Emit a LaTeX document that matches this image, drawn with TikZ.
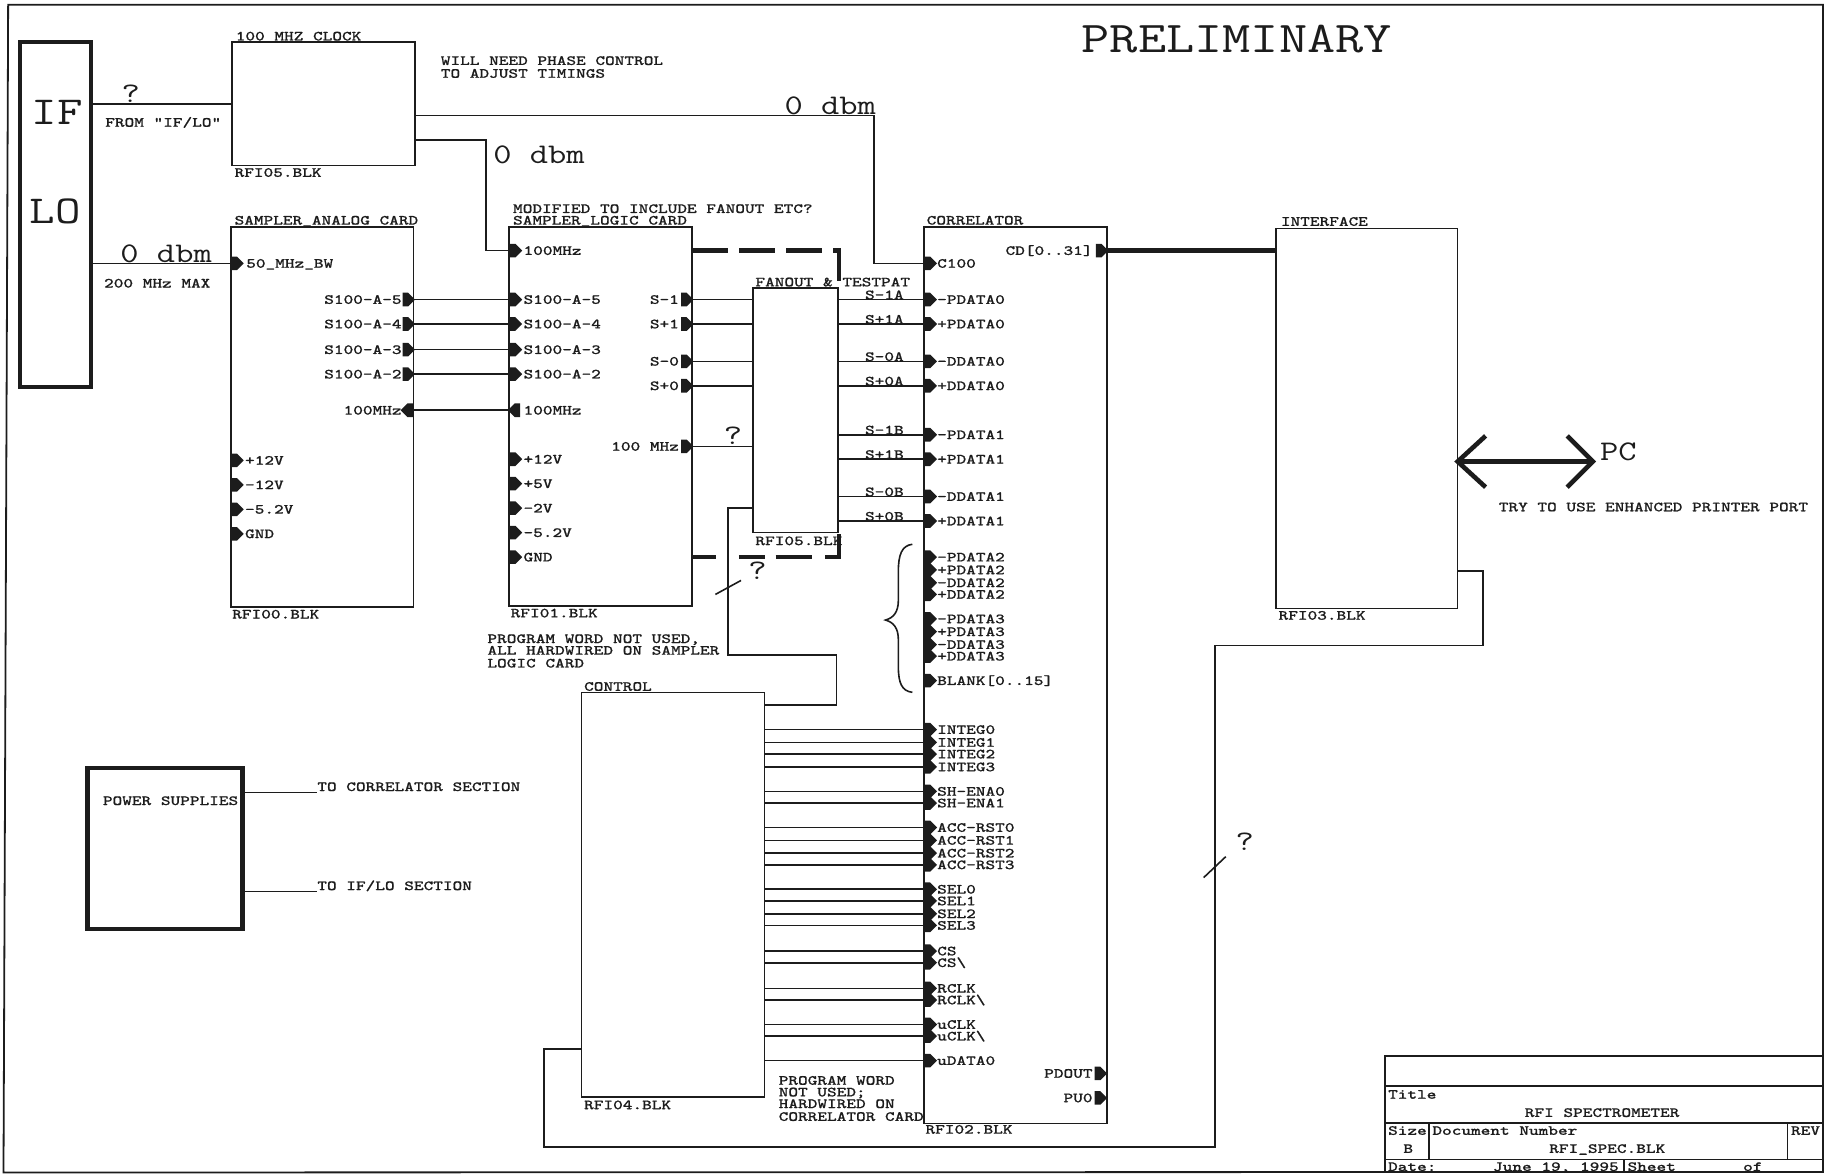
\documentclass[tikz,border=0pt]{standalone}
\usepackage{fontspec}
\usetikzlibrary{fit,shapes.symbols}
\newfontfamily\lblfont[FakeStretch=1.3,FakeBold=0.9]{Latin Modern Mono}
\newfontfamily\bigfont[FakeStretch=1.25]{Latin Modern Mono}
\definecolor{ink}{HTML}{1C1C1C}
\newcounter{tcnt}
\tikzset{
  blk/.style={draw=ink,line width=.8pt,inner sep=0pt,outer sep=0pt},
  thickblk/.style={draw=ink,line width=2.3pt,inner sep=0pt,outer sep=0pt},
  wire/.style={draw=ink,line width=.8pt},
  busw/.style={draw=ink,line width=2.2pt},
  dashedbus/.style={draw=ink,line width=2.2pt,dash pattern=on 18pt off 5.5pt},
  dashedbustwo/.style={draw=ink,line width=2.2pt,dash pattern=on 11.7pt off 11.7pt on 12.8pt off 5.5pt on 18.4pt off 6.4pt on 30pt off 1pt},
  lbl/.style={inner sep=0pt,text=ink,font=\lblfont\fontsize{7pt}{8pt}\selectfont},
  portr/.style={signal,signal to=east,fill=ink,inner sep=0pt,minimum width=6.2pt,minimum height=6.8pt,xshift=-1.2pt},
  portl/.style={signal,signal to=west,fill=ink,inner sep=0pt,minimum width=6.2pt,minimum height=6.8pt,xshift=1.2pt},
  bigtxt/.style={inner sep=0pt,text=ink},
}
\newcommand\blkbox[6][blk]{%
  \coordinate (#2a) at (#3,#4);\coordinate (#2b) at (#5,#6);
  \node[#1,fit=(#2a)(#2b)] (#2) {};}
\newcommand\txl[3]{\stepcounter{tcnt}\node[lbl,anchor=base west] (t\arabic{tcnt}) at (#1,#2+3.7) {#3};}
\newcommand\txr[3]{\stepcounter{tcnt}\node[lbl,anchor=base east] (t\arabic{tcnt}) at (#1,#2+3.7) {#3};}
\newcommand\txc[3]{\stepcounter{tcnt}\node[lbl,anchor=base] (t\arabic{tcnt}) at (#1,#2+3.7) {#3};}
\newcommand\bigtx[4]{\stepcounter{tcnt}\node[bigtxt,anchor=base west,font=\bigfont\fontsize{#4}{#4}\selectfont] (t\arabic{tcnt}) at (#1,#2) {#3};}
\begin{document}
\begin{tikzpicture}[x=.58259pt,y=-.58275pt]
\useasboundingbox (0,0) rectangle (1568,1009);
% sheet frame
\draw[ink,line width=.9pt] (7,4) -- (1564.5,4) -- (1564.5,1005.5) -- (3,1006) -- cycle;
% title block
\draw[ink,line width=.8pt] (1188.6,1005.5) -- (1188.6,906) -- (1564.5,906);
\draw[ink,line width=.8pt] (1188.6,932) -- (1564.5,932);
\draw[ink,line width=.8pt] (1188.6,963.5) -- (1564.5,963.5);
\draw[ink,line width=.8pt] (1188.6,994.7) -- (1564.5,994.7);
\draw[ink,line width=.8pt] (1226.5,963.5) -- (1226.5,994.7);
\draw[ink,line width=.8pt] (1534,963.5) -- (1534,994.7);
\draw[ink,line width=.8pt] (1393.8,994.7) -- (1393.8,1005.5);
\txl{1191}{939}{Title}
\txc{1375}{954.6}{RFI SPECTROMETER}
\txl{1191}{970}{Size}
\txc{1208.6}{985.5}{B}
\txl{1229}{970}{Document Number}
\txc{1379.4}{985.5}{RFI\_SPEC.BLK}
\txl{1536.8}{970}{REV}
\txl{1191}{1001}{Date:}
\txr{1389.6}{1001}{June 19, 1995}
\txl{1396.5}{1001}{Sheet}
\txl{1495.7}{1001}{of}
% blocks
\blkbox[thickblk]{iflo}{17}{36}{78}{332}
\blkbox{clk}{199}{36}{356}{142}
\blkbox{ana}{198}{195}{355}{521}
\blkbox{logic}{437}{195}{594}{520}
\blkbox{fan}{646}{247}{719}{457}
\blkbox{corr}{793}{195}{950}{964}
\blkbox{iface}{1095}{196}{1251}{522}
\blkbox{ctrl}{499}{594}{656}{941}
\blkbox[thickblk]{psu}{75}{659}{208}{797}
% big texts
\bigtx{928}{45}{PRELIMINARY}{21.9pt}
\bigtx{27}{107}{IF}{19.8pt}
\bigtx{25}{192}{LO}{19.8pt}
\bigtx{104}{88}{?}{14.2pt}
\bigtx{103}{225}{0 dbm}{14.2pt}
\bigtx{423}{140}{0 dbm}{14.2pt}
\bigtx{673}{98}{0 dbm}{14.2pt}
\bigtx{621}{381}{?}{14.2pt}
\bigtx{642}{497}{?}{14.2pt}
\bigtx{1060}{730}{?}{14.2pt}
\bigtx{1373}{395}{PC}{14.2pt}
% small texts
\txl{202}{31}{100 MHZ CLOCK}
\txl{201}{148}{RFI05.BLK}
\txl{378}{52}{WILL NEED PHASE CONTROL}
\txl{378}{63}{TO ADJUST TIMINGS}
\txl{90}{105}{FROM "IF/LO"}
\txl{89}{243}{200 MHz MAX}
\txl{201}{189}{SAMPLER\_ANALOG CARD}
\txl{199}{527}{RFI00.BLK}
\txl{440}{179}{MODIFIED TO INCLUDE FANOUT ETC?}
\txl{440}{189}{SAMPLER\_LOGIC CARD}
\txl{438}{526}{RFI01.BLK}
\txl{648}{242}{FANOUT \& TESTPAT}
\txl{648}{464}{RFI05.BLK}
\txl{795}{189}{CORRELATOR}
\txl{794}{969}{RFI02.BLK}
\txl{1099}{190}{INTERFACE}
\txl{1097}{528}{RFI03.BLK}
\txl{501}{589}{CONTROL}
\txl{501}{948}{RFI04.BLK}
\txl{418}{548}{PROGRAM WORD NOT USED,}
\txl{418}{558}{ALL HARDWIRED ON SAMPLER}
\txl{418}{569}{LOGIC CARD}
\txl{668}{927}{PROGRAM WORD}
\txl{668}{937}{NOT USED;}
\txl{668}{947}{HARDWIRED ON}
\txl{668}{958}{CORRELATOR CARD}
\txl{88}{687}{POWER SUPPLIES}
\txl{272}{675}{TO CORRELATOR SECTION}
\txl{272}{760}{TO IF/LO SECTION}
\txl{1286}{435}{TRY TO USE ENHANCED PRINTER PORT}
% analog card ports
\node[portr] (abw) at (203,226) {};
\txl{211}{226}{50\_MHz\_BW}
\foreach \y/\t in {395/+12V,416/-12V,437/-5.2V,458/GND}{
  \node[portr] (av\y) at (203,\y) {};
  \txl{210}{\y}{\t}
}
\foreach \y/\t in {257/S100-A-5,278/S100-A-4,300/S100-A-3,321/S100-A-2}{
  \node[portr] (ar\y) at (350,\y) {};
  \txr{345}{\y}{\t}
  \node[portr] (ll\y) at (442,\y) {};
  \txl{449}{\y}{\t}
  \draw[wire] (ar\y.center) -- (ll\y.center);
}
\node[portl] (ac) at (350,352) {};
\txr{345}{352}{100MHz}
\node[portl] (lc) at (442,352) {};
\txl{449}{352}{100MHz}
\draw[wire] (ac.center) -- (lc.center);
% logic card ports
\node[portr] (lclk) at (442,215) {};
\txl{449}{215}{100MHz}
\foreach \y/\t in {394/+12V,415/+5V,436/-2V,457/-5.2V,478/GND}{
  \node[portr] (lv\y) at (442,\y) {};
  \txl{449}{\y}{\t}
}
\foreach \y/\t in {257/S-1,278/S+1,310/S-0,331/S+0,383/100 MHz}{
  \node[portr] (lr\y) at (589,\y) {};
  \txr{583}{\y}{\t}
  \draw[wire] (lr\y.center) -- (lr\y -| fan.west);
}
% correlator ports
\node[portr] (cclk) at (798,226) {};
\txl{804}{226}{C100}
\foreach \y/\t/\s in {257/-PDATA0/S-1A,278/+PDATA0/S+1A,310/-DDATA0/S-0A,331/+DDATA0/S+0A,373/-PDATA1/S-1B,394/+PDATA1/S+1B,426/-DDATA1/S-0B,447/+DDATA1/S+0B}{
  \node[portr] (cp\y) at (798,\y) {};
  \txl{804}{\y}{\t}
  \draw[wire] (cp\y.center) -- (cp\y -| fan.east);
  \txc{759}{\y-4}{\s}
}
\foreach \y/\t in {478/-PDATA2,489/+PDATA2,500/-DDATA2,510/+DDATA2,531/-PDATA3,542/+PDATA3,553/-DDATA3,563/+DDATA3,584/{BLANK[0..15]}}{
  \node[portr] (cp\y) at (798,\y) {};
  \txl{804}{\y}{\t}
}
\foreach \y/\t in {626/INTEG0,637/INTEG1,647/INTEG2,658/INTEG3,679/SH-ENA0,689/SH-ENA1,710/ACC-RST0,721/ACC-RST1,732/ACC-RST2,742/ACC-RST3,763/SEL0,773/SEL1,784/SEL2,794/SEL3,816/CS,826/CS\textbackslash,848/RCLK,858/RCLK\textbackslash,879/uCLK,889/uCLK\textbackslash,910/uDATA0}{
  \node[portr] (cp\y) at (798,\y) {};
  \txl{804}{\y}{\t}
  \draw[wire] (cp\y.center) -- (cp\y -| ctrl.east);
}
\node[portr] (cd) at (945,215) {};
\txr{938}{215}{CD[0..31]}
\node[portr] (pdout) at (944,921) {};
\txr{938}{921}{PDOUT}
\node[portr] (puo) at (944,942) {};
\txr{938}{942}{PU0}
% connectors
\coordinate (ifq) at (iflo.east |- 0,89);
\draw[wire] (ifq) -- (ifq -| clk.west);
\draw[wire] (iflo.east |- abw) -- (abw.center);
\coordinate (clko) at (clk.east |- 0,99);
\coordinate (clkp) at (clk.east |- 0,120);
\draw[wire] (clko) -- (750,99) -- (750,226) -- (cclk.center);
\draw[wire] (clkp) -- (417,120) -- (417,215) -- (lclk.center);
\draw[busw] (cd.center) -- (cd -| iface.west);
\draw[dashedbus] (lclk -| logic.east) -- (720,215) -- (720,247);
\draw[dashedbustwo] (lv478 -| logic.east) -- (720,478) -- (720,458);
\coordinate (fanprog) at (fan.west |- 0,436);
\coordinate (ctlprog) at (ctrl.east |- 0,605);
\draw[wire] (fanprog) -- (625,436) -- (625,562) -- (718,562) -- (718,605) -- (ctlprog);
\coordinate (tka) at (614,510); \coordinate (tkb) at (636,498);
\draw[wire] (tka) -- (tkb);
\coordinate (ctlback) at (ctrl.west |- 0,900);
\coordinate (ifback) at (iface.east |- 0,490);
\draw[wire] (ctlback) -- (467,900) -- (467,984) -- (1043,984) -- (1043,554) -- (1273,554) -- (1273,490) -- (ifback);
\coordinate (tkc) at (1033,753); \coordinate (tkd) at (1052,735);
\draw[wire] (tkc) -- (tkd);
\coordinate (pcl) at (iface.east |- 0,396);
\coordinate (pcr) at (1367,396);
\draw[ink,line width=2.3pt,line join=miter] (pcl) -- (pcr);
\draw[ink,line width=2.3pt,line join=miter] (1275,374) -- (pcl) -- (1275,418);
\draw[ink,line width=2.3pt,line join=miter] (1345,374) -- (pcr) -- (1345,418);
\coordinate (psa) at (psu.east |- 0,680);
\coordinate (psb) at (psu.east |- 0,765);
\draw[wire] (psa) -- (272,680);
\draw[wire] (psb) -- (272,765);
% brace
\draw[ink,line width=.8pt] (783,467) .. controls (774,468) and (771,476) .. (771,490)
  -- (771,515) .. controls (771,525) and (767,530) .. (760,532)
  .. controls (767,534) and (771,539) .. (771,549) -- (771,572)
  .. controls (771,586) and (774,593) .. (783,594);
\end{tikzpicture}
\end{document}
